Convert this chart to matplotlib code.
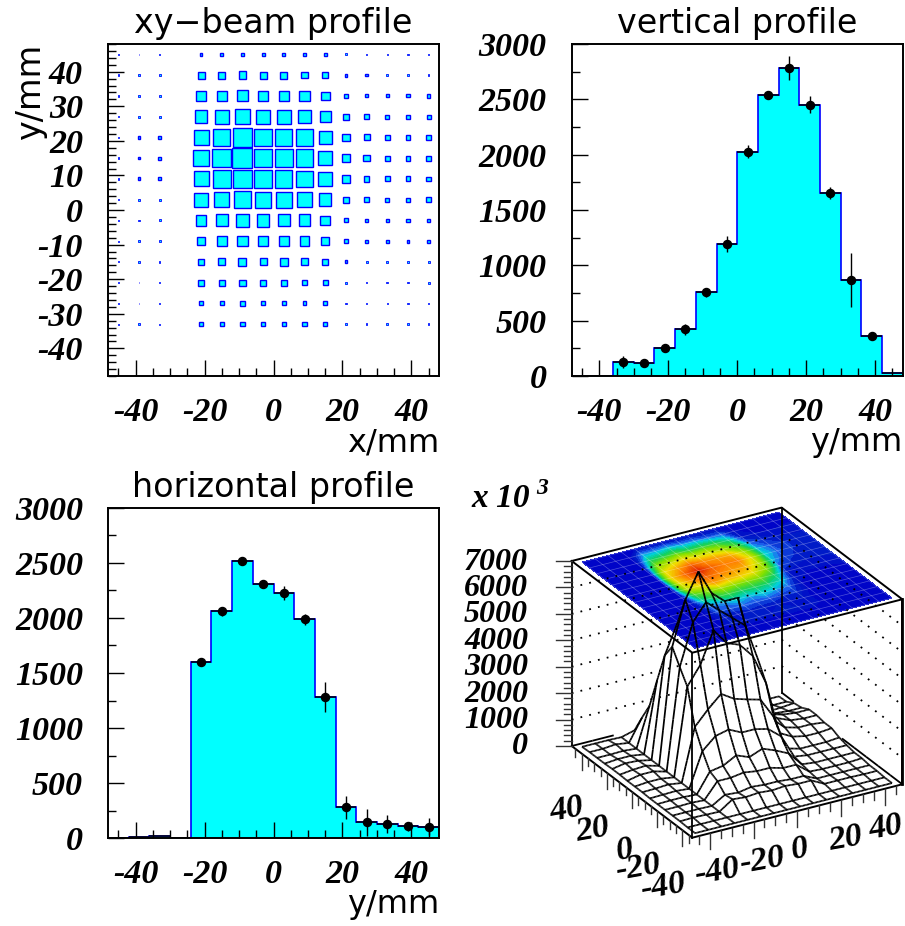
import numpy as np
import matplotlib
matplotlib.use('Agg')
import matplotlib.pyplot as plt
from matplotlib.colors import LinearSegmentedColormap
from matplotlib.collections import LineCollection
from matplotlib.patches import Rectangle
from matplotlib.path import Path
from matplotlib.ticker import MultipleLocator

plt.rcParams['axes.unicode_minus'] = False

# bins
edges = np.arange(-48, 49, 6)
centers = (edges[:-1] + edges[1:]) / 2

# 2d counts, rows from y=45 down to y=-45, columns x=-45..45
counts = np.array([
    [1, 1, 1, 0, 9, 9, 9, 9, 9, 9, 9, 5, 3, 2, 2, 2],
    [2, 2, 5, 0, 56, 56, 67, 56, 56, 45, 45, 9, 7, 5, 3, 3],
    [2, 2, 3, 0, 101, 117, 142, 117, 125, 125, 87, 20, 11, 9, 11, 14],
    [2, 5, 5, 0, 180, 222, 269, 234, 234, 201, 142, 45, 27, 20, 17, 17],
    [3, 9, 7, 0, 257, 334, 405, 362, 348, 320, 201, 67, 40, 31, 27, 27],
    [3, 7, 9, 0, 294, 405, 468, 405, 376, 376, 245, 80, 45, 31, 27, 27],
    [2, 9, 9, 0, 257, 362, 405, 376, 348, 320, 222, 67, 36, 27, 27, 23],
    [2, 5, 5, 0, 222, 269, 348, 307, 294, 257, 180, 45, 27, 20, 20, 23],
    [2, 3, 5, 0, 134, 170, 201, 180, 170, 161, 109, 20, 11, 11, 11, 14],
    [1, 2, 3, 0, 87, 117, 125, 109, 109, 101, 74, 14, 9, 9, 9, 9],
    [1, 2, 2, 0, 50, 56, 74, 61, 74, 61, 45, 9, 5, 5, 5, 5],
    [1, 1, 2, 0, 40, 40, 45, 40, 40, 31, 31, 5, 3, 3, 3, 5],
    [1, 1, 1, 0, 20, 17, 23, 20, 20, 17, 17, 2, 2, 2, 2, 2],
    [1, 2, 1, 0, 23, 20, 23, 20, 23, 20, 20, 3, 3, 3, 2, 2],
    [0] * 16,
    [0] * 16,
])
rows_y = centers[::-1]
surface_scale = 14.9

# vertical profile
vert_vals = [0, 0, 127, 118, 256, 422, 757, 1194, 2026, 2536, 2787, 2452, 1654, 863, 365, 27]
vert_errs = [0, 0, 53, 20, 30, 50, 42, 70, 60, 30, 108, 78, 57, 244, 25, 0]
vert_mark = [0, 0, 1, 1, 1, 1, 1, 1, 1, 1, 1, 1, 1, 1, 1, 0]

# horizontal profile
horiz_vals = [5, 10, 18, 0, 1597, 2059, 2516, 2307, 2223, 1987, 1282, 281, 145, 127, 110, 106]
horiz_errs = [0, 0, 0, 0, 20, 40, 25, 35, 65, 50, 136, 106, 125, 80, 40, 75]
horiz_mark = [0, 0, 0, 0, 1, 1, 1, 1, 1, 1, 1, 1, 1, 1, 1, 1]

xticks = [-40, -20, 0, 20, 40]
yticks_mm = [-40, -30, -20, -10, 0, 10, 20, 30, 40]
cticks = [0, 500, 1000, 1500, 2000, 2500, 3000]
zticks = [0, 1000, 2000, 3000, 4000, 5000, 6000, 7000]

W, H = 905, 926
NUM = dict(family='Liberation Serif', weight='bold', style='italic', size=24.5)
TXT = dict(family='DejaVu Sans', size=24)
LAB = dict(family='DejaVu Sans', size=23)


def make_axes(left, top, right, bottom):
    return fig.add_axes([left / W, 1 - bottom / H, (right - left) / W, (bottom - top) / H])


def style_axes(ax, title, xlabel):
    ax.set_xlim(-48, 48)
    ax.set_xticks(xticks)
    ax.xaxis.set_minor_locator(MultipleLocator(5))
    ax.tick_params(which='major', direction='in', length=11.5, width=1.0, pad=18, top=False, right=False)
    ax.tick_params(which='minor', direction='in', length=5.8, width=1.0, top=False, right=False)
    ax.tick_params(axis='x', which='major', pad=15)
    for lab in ax.get_xticklabels() + ax.get_yticklabels():
        lab.set(**NUM)
    for s in ax.spines.values():
        s.set_linewidth(1.4)
    ax.set_title(title, pad=8, **TXT)
    ax.text(1.0, -0.226, xlabel, transform=ax.transAxes, ha='right', va='baseline', **LAB)


def draw_hist(ax, vals, errs, mark):
    vals = np.array(vals, dtype=float)
    errs = np.array(errs, dtype=float)
    mark = np.array(mark, dtype=bool)
    ax.stairs(vals, edges, fill=True, color='#00ffff', zorder=1)
    ax.stairs(vals, edges, color='#0000ff', lw=1.2, zorder=1.5)
    ax.hlines(vals, edges[:-1], edges[1:], color='k', lw=1.1, zorder=3)
    ax.errorbar(centers[mark], vals[mark], yerr=errs[mark], fmt='o', color='k', ms=5.8,
                elinewidth=1.0, capsize=0, zorder=4)
    ax.set_ylim(0, 3000)
    ax.set_yticks(cticks)
    ax.yaxis.set_minor_locator(MultipleLocator(250))


fig = plt.figure(figsize=(W / 100, H / 100), dpi=100)

# xy beam profile
ax1 = make_axes(108, 44, 439, 376)
for row, y in zip(counts, rows_y):
    for c, x in zip(row, centers):
        if c > 0:
            side = 5.8 * np.sqrt(c / counts.max())
            ax1.add_patch(Rectangle((x - side / 2, y - side / 2), side, side, fc='#00ffff',
                                    ec='#0000ff', lw=1.0 if side > 0.6 else 0.6, zorder=1))
ax1.set_ylim(-48, 48)
ax1.set_yticks(yticks_mm)
ax1.yaxis.set_minor_locator(MultipleLocator(2))
style_axes(ax1, 'xy\u2212beam profile', 'x/mm')
ax1.text(-0.235, 1.0, 'y/mm', transform=ax1.transAxes, rotation=90, ha='center', va='top', **TXT)

# vertical profile
ax2 = make_axes(571.7, 44, 902.7, 376)
draw_hist(ax2, vert_vals, vert_errs, vert_mark)
style_axes(ax2, 'vertical profile', 'y/mm')

# horizontal profile
ax3 = make_axes(108, 507.7, 439, 838.3)
draw_hist(ax3, horiz_vals, horiz_errs, horiz_mark)
style_axes(ax3, 'horizontal profile', 'y/mm')

# 3d panel, drawn in pixel coordinates with a fixed parallel projection
ax4 = fig.add_axes([0, 0, 1, 1], facecolor='none')
ax4.set_xlim(0, W)
ax4.set_ylim(H, 0)
ax4.axis('off')


def proj(x, y, z):
    fx = (np.asarray(x, dtype=float) + 48) / 96
    fy = (np.asarray(y, dtype=float) + 48) / 96
    fz = np.asarray(z, dtype=float) / 7000
    return 692.3 + 210 * fx - 120.6 * fy, 837.7 - 53.4 * fx - 91.7 * fy - 185 * fz


surf = counts[::-1] * surface_scale  # rows now y ascending
gx, gy = np.meshgrid(centers, centers)
px, py = proj(gx, gy, surf)

# colour plane on top of the box
palette = LinearSegmentedColormap.from_list('root', [
    (0.0, '#0000c8'), (0.06, '#0020c8'), (0.1, '#2068f0'), (0.15, '#00d0e0'),
    (0.23, '#10d060'), (0.37, '#80e000'), (0.57, '#f0e000'), (0.8, '#ff8000'), (1.0, '#e02000')])
qx, qy = proj(gx, gy, 7000)
ax4.contourf(qx, qy, surf, levels=50, cmap=palette, zorder=2)
for k in range(len(centers)):
    ax4.plot(qx[k], qy[k], color='white', lw=0.5, alpha=0.3, zorder=2.1)
    ax4.plot(qx[:, k], qy[:, k], color='white', lw=0.5, alpha=0.3, zorder=2.1)

# facets from back to front, used for hidden line removal of the mesh
n = len(centers)
quads = []
rank = {}
for i in range(n - 2, -1, -1):
    for j in range(n - 2, -1, -1):
        rank[(i, j)] = len(quads)
        q = np.array([[px[i, j], py[i, j]], [px[i, j + 1], py[i, j + 1]],
                      [px[i + 1, j + 1], py[i + 1, j + 1]], [px[i + 1, j], py[i + 1, j]]])
        quads.append(q.mean(axis=0) + 0.97 * (q - q.mean(axis=0)))

# mesh edges with the rank of the front most facet they belong to
segs = []
owner = []
for i in range(n):
    for j in range(n):
        if j < n - 1:
            own = max(rank.get((i, j), -1), rank.get((i - 1, j), -1))
            segs.append(((px[i, j], py[i, j]), (px[i, j + 1], py[i, j + 1])))
            owner.append(own)
        if i < n - 1:
            own = max(rank.get((i, j), -1), rank.get((i, j - 1), -1))
            segs.append(((px[i, j], py[i, j]), (px[i + 1, j], py[i + 1, j])))
            owner.append(own)
# back edges of the floor are hidden by the mesh too
for a, b in [((-48, 48), (48, 48)), ((48, 48), (48, -48))]:
    p0 = proj(a[0], a[1], 0)
    p1 = proj(b[0], b[1], 0)
    segs.append((p0, p1))
    owner.append(-1)

nsub = 10
t = np.linspace(0, 1, nsub + 1)[:, None]
samples = np.array([np.array(s[0]) + t * (np.array(s[1]) - np.array(s[0])) for s in segs])
pts = samples.reshape(-1, 2)
owner_pts = np.repeat(owner, nsub + 1)
hidden = np.zeros(len(pts), dtype=bool)
for r, q in enumerate(quads):
    inside = Path(np.vstack([q, q[:1]])).contains_points(pts)
    hidden |= inside & (owner_pts < r)
hidden = hidden.reshape(-1, nsub + 1)

mesh_lines = []
frame_lines = []
for k, s in enumerate(samples):
    for m in range(nsub):
        if not hidden[k, m] and not hidden[k, m + 1]:
            (frame_lines if owner[k] == -1 else mesh_lines).append(s[m:m + 2])
ax4.add_collection(LineCollection(mesh_lines, colors='k', linewidths=1.25, zorder=3))
ax4.add_collection(LineCollection(frame_lines, colors='k', linewidths=1.3, zorder=3))

# dotted level lines on the back walls
for z in zticks[1:-1]:
    lx, ly = proj([-48, 48, 48], [48, 48, -48], [z, z, z])
    ax4.plot(lx, ly, color='k', lw=1.3, ls=(0, (1, 4)), zorder=4)

# box frame
corners = [(-48, 48), (-48, -48), (48, -48), (48, 48)]
for cx, cy in corners:
    vx, vy = proj([cx, cx], [cy, cy], [0, 7000])
    ax4.plot(vx, vy, color='k', lw=1.3, zorder=5)
tx, ty = proj([c[0] for c in corners] + [-48], [c[1] for c in corners] + [48], [7000] * 5)
ax4.plot(tx, ty, color='k', lw=1.4, zorder=5)
bx, by = proj([-48, -48, 48], [48, -48, -48], [0, 0, 0])
ax4.plot(bx, by, color='k', lw=1.4, zorder=5)
vx, vy = proj([48, 48], [-48, -48], [0, 7000])
ax4.plot(vx, vy, color='k', lw=2.0, zorder=5)

# z axis ticks
zx, _ = proj(-48, 48, 0)
for z in np.arange(0, 7001, 200):
    _, yy = proj(-48, 48, z)
    major = z % 1000 == 0
    ax4.plot([zx - (16 if major else 8), zx], [yy, yy], color='#333333', lw=1.0, zorder=5)
    if major:
        ax4.text(528, yy + 1, str(int(z)), ha='right', va='center', **{**NUM, 'size': 23})

# floor axis ticks
for v in np.arange(-45, 46, 5):
    major = v % 20 == 0
    length = 16 if major else 8
    xx, yy = proj(v, -48, 0)
    ax4.plot([xx, xx], [yy, yy + length], color='#333333', lw=1.0, zorder=5)
    xx, yy = proj(-48, v, 0)
    ax4.plot([xx, xx], [yy, yy + length], color='#333333', lw=1.0, zorder=5)

ylabel_pos = [(-40, 662.7, 886.7), (-20, 637.7, 868), (0, 625, 850), (20, 593, 830), (40, 566.7, 810)]
xlabel_pos = [(-40, 717.3, 871.7), (-20, 761.7, 860.7), (0, 800, 849.3), (20, 845.7, 838.3), (40, 886, 827.3)]
for v, xx, yy in ylabel_pos + xlabel_pos:
    ax4.text(xx, yy, str(v), ha='center', va='center', rotation=10, rotation_mode='anchor', **NUM)

ax4.text(471, 507, 'x 10', ha='left', va='baseline', **{**NUM, 'size': 24})
ax4.text(536, 494, '3', ha='left', va='baseline', **{**NUM, 'size': 17})

fig.savefig('out.png', dpi=100, facecolor='white')
